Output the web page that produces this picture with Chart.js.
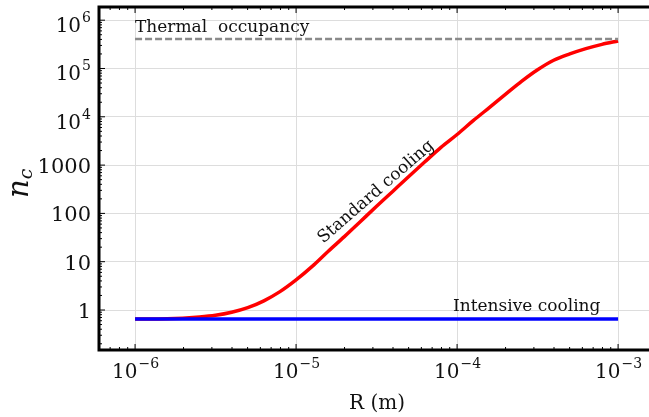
<!DOCTYPE html>
<html>
<head>
<meta charset="utf-8">
<script src="https://cdn.jsdelivr.net/npm/chart.js@4"></script>
<style>
  html, body { margin: 0; padding: 0; background: #fff; overflow: hidden; }
  canvas { display: block; }
</style>
</head>
<body>
<canvas id="myChart" width="649" height="417"></canvas>
<script>
// values
var radius = [1e-6, 1.585e-6, 2.512e-6, 3.162e-6, 3.981e-6, 5.012e-6, 6.31e-6, 7.943e-6,
              1e-5, 1.259e-5, 1.585e-5, 1.995e-5, 2.512e-5, 3.162e-5, 3.981e-5, 5.012e-5, 6.31e-5, 7.943e-5,
              1e-4, 1.259e-4, 1.585e-4, 1.995e-4, 2.512e-4, 3.162e-4, 3.981e-4, 5.012e-4, 6.31e-4, 7.943e-4, 1e-3];
var standardCooling = [0.65, 0.66, 0.72, 0.78, 0.9, 1.12, 1.55, 2.4,
                       4.2, 8, 16.5, 33, 68, 140, 285, 580, 1170, 2330,
                       4300, 8300, 15500, 29000, 54000, 94000, 148000, 200000, 257000, 316000, 372000];
var lineRadius = [1e-6, 1e-3];
var intensiveCooling = [0.65, 0.65];
var thermalOccupancy = [4.1e5, 4.1e5];

var xTicks = [1e-6, 1e-5, 1e-4, 1e-3];
var xTickExp = ["\u22126", "\u22125", "\u22124", "\u22123"];
var yTicks = [1, 10, 100, 1000, 1e4, 1e5, 1e6];
var yTickText = ["1", "10", "100", "1000", "10", "10", "10"];
var yTickExp = ["", "", "", "", "4", "5", "6"];

var SERIF = "'DejaVu Serif', 'Liberation Serif', serif";

function pts(xs, ys) {
    return xs.map(function (x, i) { return {x: x, y: ys[i]}; });
}

function isDecade(v) {
    var l = Math.log10(v);
    return Math.abs(l - Math.round(l)) < 1e-6;
}

var ctx = document.getElementById("myChart").getContext('2d');

var framePlugin = {
    id: 'frame',
    afterDraw: function (chart) {
        var c = chart.ctx, a = chart.chartArea;
        var xs = chart.scales.x, ys = chart.scales.y;
        c.save();
        c.strokeStyle = '#000';

        // minor + major ticks, pointing in
        c.lineWidth = 1;
        for (var e = -7; e <= -3; e++) {
            for (var m = 1; m <= 9; m++) {
                var px = xs.getPixelForValue(m * Math.pow(10, e));
                if (px < a.left + 1 || px > a.right - 1) continue;
                var len = (m === 1) ? 6 : 3;
                c.beginPath();
                c.moveTo(px, a.bottom); c.lineTo(px, a.bottom - len);
                c.moveTo(px, a.top); c.lineTo(px, a.top + len);
                c.stroke();
            }
        }
        for (var e2 = -1; e2 <= 6; e2++) {
            for (var m2 = 1; m2 <= 9; m2++) {
                var py = ys.getPixelForValue(m2 * Math.pow(10, e2));
                if (py < a.top + 1 || py > a.bottom - 1) continue;
                var len2 = (m2 === 1) ? 6 : 3;
                c.beginPath();
                c.moveTo(a.left, py); c.lineTo(a.left + len2, py);
                c.stroke();
            }
        }

        // cover whatever the library puts on the right edge (right spine is off the picture)
        c.fillStyle = '#fff';
        c.fillRect(636, 0, 13, 417);
        c.strokeStyle = '#dddddd';
        c.lineWidth = 1;
        yTicks.forEach(function (v) {
            var gy = Math.round(ys.getPixelForValue(v) - 0.5) + 0.5;
            c.beginPath(); c.moveTo(636, gy); c.lineTo(649, gy); c.stroke();
        });

        // spines
        c.strokeStyle = '#000';
        c.lineWidth = 3;
        c.beginPath();
        c.moveTo(649, a.top);
        c.lineTo(a.left, a.top);
        c.lineTo(a.left, a.bottom);
        c.lineTo(649, a.bottom);
        c.stroke();

        c.fillStyle = '#111';
        // x tick labels
        xTicks.forEach(function (v, i) {
            var px = xs.getPixelForValue(v);
            c.font = "20px " + SERIF;
            var wb = c.measureText("10").width;
            c.font = "14px " + SERIF;
            var we = c.measureText(xTickExp[i]).width;
            var x0 = px - (wb + we) / 2;
            c.textAlign = 'left';
            c.textBaseline = 'alphabetic';
            c.font = "20px " + SERIF;
            c.fillText("10", x0, 378);
            c.font = "14px " + SERIF;
            c.fillText(xTickExp[i], x0 + wb + 1, 368);
        });

        // y tick labels
        yTicks.forEach(function (v, i) {
            var py = ys.getPixelForValue(v);
            c.textAlign = 'right';
            c.textBaseline = 'alphabetic';
            if (yTickExp[i] === "") {
                c.font = "21px " + SERIF;
                c.fillText(yTickText[i], 91, py + 8);
            } else {
                c.font = "14px " + SERIF;
                var we = c.measureText(yTickExp[i]).width;
                c.fillText(yTickExp[i], 91, py + 2);
                c.font = "20px " + SERIF;
                c.fillText(yTickText[i], 91 - we - 1, py + 12);
            }
        });

        // axis titles
        c.textAlign = 'center';
        c.font = "20px " + SERIF;
        c.fillText("R (m)", 377, 409);

        c.save();
        c.translate(28, 198);
        c.rotate(-Math.PI / 2);
        c.textAlign = 'left';
        c.font = "italic 29px " + SERIF;
        c.fillText("n", 0, 0);
        var wn = c.measureText("n").width;
        c.font = "italic 19px " + SERIF;
        c.fillText("c", wn, 4);
        c.restore();

        // curve labels
        c.font = "17px " + SERIF;
        c.textAlign = 'left';
        c.fillText("Thermal  occupancy", 135, 32);
        c.fillText("Intensive cooling", 453, 311);

        c.save();
        c.translate(376, 192);
        c.rotate(-41 * Math.PI / 180);
        c.textAlign = 'center';
        c.textBaseline = 'middle';
        c.fillText("Standard cooling", 0, 0);
        c.restore();

        c.restore();
    }
};

var gridStyle = {
    color: function (context) {
        return (context.tick && isDecade(context.tick.value)) ? '#dddddd' : 'rgba(0,0,0,0)';
    },
    lineWidth: 1,
    drawTicks: false
};

var myChart = new Chart(ctx, {
    type: 'line',
    data: {
        datasets: [{
            label: 'Thermal occupancy',
            data: pts(lineRadius, thermalOccupancy),
            borderColor: '#8a8a8a',
            borderWidth: 2.5,
            borderDash: [7, 3],
            pointRadius: 0
        }, {
            label: 'Intensive cooling',
            data: pts(lineRadius, intensiveCooling),
            borderColor: '#0000ff',
            borderWidth: 3.5,
            pointRadius: 0
        }, {
            label: 'Standard cooling',
            data: pts(radius, standardCooling),
            borderColor: '#ff0000',
            borderWidth: 3.5,
            cubicInterpolationMode: 'monotone',
            pointRadius: 0
        }]
    },
    options: {
        responsive: false,
        animation: false,
        devicePixelRatio: 1,
        layout: { padding: { left: 99, right: 0, top: 7, bottom: 67 } },
        plugins: { legend: { display: false }, tooltip: { enabled: false } },
        scales: {
            x: {
                type: 'logarithmic',
                min: Math.pow(10, -6.224),
                max: Math.pow(10, -2.808),
                ticks: { display: false },
                afterBuildTicks: function (scale) {
                    scale.ticks = xTicks.map(function (v) { return {value: v}; });
                },
                grid: gridStyle,
                border: { display: false }
            },
            y: {
                type: 'logarithmic',
                min: Math.pow(10, -0.828),
                max: Math.pow(10, 6.273),
                ticks: { display: false },
                afterBuildTicks: function (scale) {
                    scale.ticks = yTicks.map(function (v) { return {value: v}; });
                },
                grid: gridStyle,
                border: { display: false }
            }
        }
    },
    plugins: [framePlugin]
});
</script>
</body>
</html>
